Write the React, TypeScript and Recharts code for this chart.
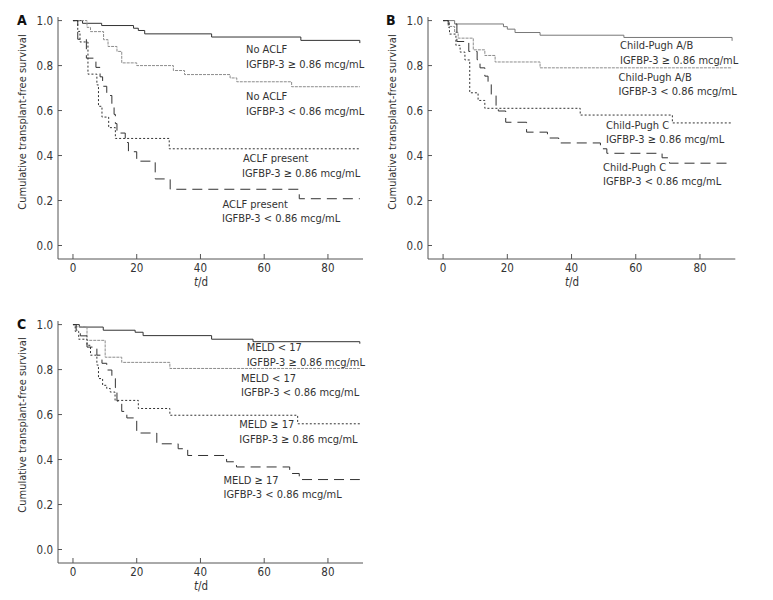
import React from "react";
import { LineChart, Line, XAxis, YAxis } from "recharts";

// ---------- Panel A: ACLF ----------
const aNoAclfHighT = [0, 3, 9, 19, 20.5, 22.5, 43.5, 71.5, 90];
const aNoAclfHighS = [1, 0.988, 0.978, 0.966, 0.956, 0.941, 0.927, 0.912, 0.9];
const aNoAclfLowT = [0, 4.4, 5.5, 9.6, 11, 13.8, 15.3, 20, 31.5, 35, 49.3, 51.4, 68.6, 90];
const aNoAclfLowS = [1, 0.97, 0.951, 0.915, 0.885, 0.863, 0.812, 0.8, 0.778, 0.76, 0.745, 0.728, 0.706, 0.706];
const aAclfHighT = [0, 1.5, 2.2, 4.7, 7.5, 8, 9.1, 11.2, 13.3, 30.2, 90];
const aAclfHighS = [1, 0.952, 0.905, 0.762, 0.714, 0.619, 0.571, 0.524, 0.476, 0.43, 0.43];
const aAclfLowT = [0, 1.5, 4.2, 7.2, 8.5, 9.3, 10.6, 12.2, 12.9, 13.3, 13.8, 16.4, 17.4, 20, 25.8, 30.5, 71, 90];
const aAclfLowS = [1, 0.917, 0.833, 0.792, 0.75, 0.708, 0.667, 0.625, 0.583, 0.542, 0.5, 0.458, 0.417, 0.375, 0.296, 0.25, 0.208, 0.208];

// ---------- Panel B: Child-Pugh ----------
const bCpAbHighT = [0, 3.6, 18.8, 20, 22.4, 30.2, 56.3, 90];
const bCpAbHighS = [1, 0.985, 0.973, 0.962, 0.947, 0.935, 0.925, 0.91];
const bCpAbLowT = [0, 2, 3.6, 4.7, 9.4, 13, 16.2, 30.2, 90];
const bCpAbLowS = [1, 0.974, 0.948, 0.922, 0.87, 0.845, 0.816, 0.79, 0.79];
const bCpCHighT = [0, 1.6, 2, 4, 5.3, 6.8, 8.3, 10.9, 13, 42.7, 71.4, 90];
const bCpCHighS = [1, 0.97, 0.94, 0.89, 0.86, 0.825, 0.679, 0.645, 0.61, 0.58, 0.545, 0.545];
const bCpCLowT = [0, 1.6, 4.3, 8, 10.6, 11.5, 13, 14, 15, 16.5, 17.2, 19.5, 26, 32.5, 36, 49, 51, 68.2, 70.5, 90];
const bCpCLowS = [1, 0.985, 0.907, 0.863, 0.826, 0.79, 0.753, 0.72, 0.668, 0.61, 0.598, 0.548, 0.504, 0.478, 0.456, 0.43, 0.41, 0.39, 0.366, 0.366];

// ---------- Panel C: MELD ----------
const cMeldLowHighT = [0, 2, 9.5, 19.5, 22, 43.5, 56.5, 90];
const cMeldLowHighS = [1, 0.989, 0.975, 0.966, 0.951, 0.935, 0.924, 0.915];
const cMeldLowLowT = [0, 1, 4.4, 10.1, 15.3, 30.4, 90];
const cMeldLowLowS = [1, 0.99, 0.93, 0.855, 0.832, 0.805, 0.805];
const cMeldHighHighT = [0, 0.7, 1.8, 4.4, 5.5, 7.5, 8, 9.3, 10.6, 11.7, 13.2, 20.5, 30.4, 70.5, 90];
const cMeldHighHighS = [1, 0.97, 0.935, 0.908, 0.864, 0.82, 0.76, 0.73, 0.716, 0.7, 0.663, 0.627, 0.597, 0.559, 0.559];
const cMeldHighLowT = [0, 1, 2.3, 4.4, 7.5, 9.1, 10.6, 12.2, 13.3, 13.8, 15.3, 16.9, 20, 26.3, 33, 36, 48.2, 51.3, 68, 71, 90];
const cMeldHighLowS = [1, 0.975, 0.95, 0.9, 0.864, 0.828, 0.798, 0.76, 0.72, 0.66, 0.614, 0.585, 0.518, 0.47, 0.448, 0.418, 0.39, 0.367, 0.338, 0.311, 0.311];

const xTicks = [0, 20, 40, 60, 80];
const yTicks = [0, 0.2, 0.4, 0.6, 0.8, 1.0];

const FONT = "Tahoma, 'DejaVu Sans Condensed', 'DejaVu Sans', sans-serif";
const TXT = "#333";
const AXIS = "#555";

const zip = (t: number[], s: number[]) => t.map((v, i) => ({ t: v, s: s[i] }));

const STY: Record<string, any> = {
  solid: { stroke: "#333", strokeWidth: 1 },
  solidGray: { stroke: "#777", strokeWidth: 1 },
  gray: { stroke: "#8c8c8c", strokeWidth: 1, strokeDasharray: "3 1" },
  dotted: { stroke: "#333", strokeWidth: 1, strokeDasharray: "2 2" },
  dashed: { stroke: "#333", strokeWidth: 1, strokeDasharray: "10 6" },
};

const XTick = (props: any) => {
  const { x, y, payload } = props;
  return (
    <g>
      <line x1={x} y1={y} x2={x} y2={y - 5} stroke={AXIS} />
      <text x={x} y={y + 5} dy="0.71em" textAnchor="middle" fontSize={11.5} fontFamily={FONT} fill={TXT}>
        {payload.value}
      </text>
    </g>
  );
};

const YTick = (props: any) => {
  const { x, y, payload } = props;
  return (
    <g>
      <line x1={x} y1={y} x2={x + 4} y2={y} stroke={AXIS} />
      <text x={x - 5} y={y} dy="0.355em" textAnchor="end" fontSize={11.5} fontFamily={FONT} fill={TXT}>
        {Number(payload.value).toFixed(1)}
      </text>
    </g>
  );
};

type Series = { t: number[]; s: number[]; style: string };

const Panel = ({ left, top, width, right, series }: { left: number; top: number; width: number; right: number; series: Series[] }) => (
  <div style={{ position: "absolute", left, top }}>
    <LineChart width={width} height={300} margin={{ top: 17, right, left: 0, bottom: 0 }}>
      <XAxis
        type="number"
        dataKey="t"
        domain={[-4.7, 91]}
        ticks={xTicks}
        allowDataOverflow
        height={41}
        tickSize={0}
        tickMargin={0}
        tick={<XTick />}
        stroke={AXIS}
        interval={0}
      />
      <YAxis
        type="number"
        domain={[-0.06, 1.016]}
        ticks={yTicks}
        allowDataOverflow
        width={58}
        tickSize={0}
        tickMargin={0}
        tick={<YTick />}
        stroke={AXIS}
        interval={0}
      />
      {series.map((sr, i) => (
        <Line
          key={i}
          data={zip(sr.t, sr.s)}
          dataKey="s"
          type="stepAfter"
          dot={false}
          activeDot={false}
          isAnimationActive={false}
          {...STY[sr.style]}
        />
      ))}
    </LineChart>
  </div>
);

const annotations: { x: number; y: number; text: string }[] = [
  { x: 246, y: 53, text: "No ACLF" },
  { x: 246, y: 67.5, text: "IGFBP-3 ≥ 0.86 mcg/mL" },
  { x: 246, y: 100, text: "No ACLF" },
  { x: 246, y: 115, text: "IGFBP-3 < 0.86 mcg/mL" },
  { x: 243, y: 162, text: "ACLF present" },
  { x: 242, y: 177, text: "IGFBP-3 ≥ 0.86 mcg/mL" },
  { x: 222.5, y: 207.5, text: "ACLF present" },
  { x: 222, y: 222, text: "IGFBP-3 < 0.86 mcg/mL" },
  { x: 620, y: 49, text: "Child-Pugh A/B" },
  { x: 620, y: 63.5, text: "IGFBP-3 ≥ 0.86 mcg/mL" },
  { x: 618.5, y: 81, text: "Child-Pugh A/B" },
  { x: 618.5, y: 95, text: "IGFBP-3 < 0.86 mcg/mL" },
  { x: 606, y: 128.5, text: "Child-Pugh C" },
  { x: 606, y: 142.5, text: "IGFBP-3 ≥ 0.86 mcg/mL" },
  { x: 603, y: 171, text: "Child-Pugh C" },
  { x: 603, y: 185, text: "IGFBP-3 < 0.86 mcg/mL" },
  { x: 246.7, y: 351, text: "MELD < 17" },
  { x: 246.7, y: 365.5, text: "IGFBP-3 ≥ 0.86 mcg/mL" },
  { x: 241, y: 381.5, text: "MELD < 17" },
  { x: 241, y: 395.5, text: "IGFBP-3 < 0.86 mcg/mL" },
  { x: 239.3, y: 428, text: "MELD ≥ 17" },
  { x: 239.3, y: 442.5, text: "IGFBP-3 ≥ 0.86 mcg/mL" },
  { x: 223.5, y: 483.5, text: "MELD ≥ 17" },
  { x: 223.5, y: 498, text: "IGFBP-3 < 0.86 mcg/mL" },
];

const yLabels = [
  { x: 26, y: 122 },
  { x: 396, y: 122 },
  { x: 26, y: 425 },
];
const xLabels = [
  { x: 201, y: 286 },
  { x: 572, y: 286 },
  { x: 201, y: 590 },
];
const letters = [
  { x: 17, y: 25, t: "A" },
  { x: 386, y: 25, t: "B" },
  { x: 17, y: 329, t: "C" },
];

export default function App() {
  return (
    <div style={{ position: "absolute", left: 0, top: 0, width: 773, height: 600, background: "#fff" }}>
      <Panel
        left={0}
        top={0}
        width={390}
        right={27}
        series={[
          { t: aNoAclfHighT, s: aNoAclfHighS, style: "solid" },
          { t: aNoAclfLowT, s: aNoAclfLowS, style: "gray" },
          { t: aAclfHighT, s: aAclfHighS, style: "dotted" },
          { t: aAclfLowT, s: aAclfLowS, style: "dashed" },
        ]}
      />
      <Panel
        left={369.7}
        top={0}
        width={400}
        right={34.7}
        series={[
          { t: bCpAbHighT, s: bCpAbHighS, style: "solidGray" },
          { t: bCpAbLowT, s: bCpAbLowS, style: "gray" },
          { t: bCpCHighT, s: bCpCHighS, style: "dotted" },
          { t: bCpCLowT, s: bCpCLowS, style: "dashed" },
        ]}
      />
      <Panel
        left={0}
        top={303.6}
        width={390}
        right={27}
        series={[
          { t: cMeldLowHighT, s: cMeldLowHighS, style: "solid" },
          { t: cMeldLowLowT, s: cMeldLowLowS, style: "gray" },
          { t: cMeldHighHighT, s: cMeldHighHighS, style: "dotted" },
          { t: cMeldHighLowT, s: cMeldHighLowS, style: "dashed" },
        ]}
      />
      <svg width={773} height={600} style={{ position: "absolute", left: 0, top: 0, pointerEvents: "none" }}>
        {letters.map((l, i) => (
          <text key={"l" + i} x={l.x} y={l.y} fontSize={14} fontWeight="bold" fontFamily={FONT} fill="#111">
            {l.t}
          </text>
        ))}
        {yLabels.map((p, i) => (
          <text
            key={"y" + i}
            x={p.x}
            y={p.y}
            textAnchor="middle"
            fontSize={11}
            fontFamily={FONT}
            fill={TXT}
            transform={`rotate(-90 ${p.x} ${p.y})`}
          >
            Cumulative transplant-free survival
          </text>
        ))}
        {xLabels.map((p, i) => (
          <text key={"x" + i} x={p.x} y={p.y} textAnchor="middle" fontSize={11.5} fontFamily={FONT} fill={TXT}>
            <tspan fontStyle="italic">t</tspan>/d
          </text>
        ))}
        {annotations.map((a, i) => (
          <text key={"a" + i} x={a.x} y={a.y} fontSize={11} fontFamily={FONT} fill={TXT}>
            {a.text}
          </text>
        ))}
      </svg>
    </div>
  );
}
